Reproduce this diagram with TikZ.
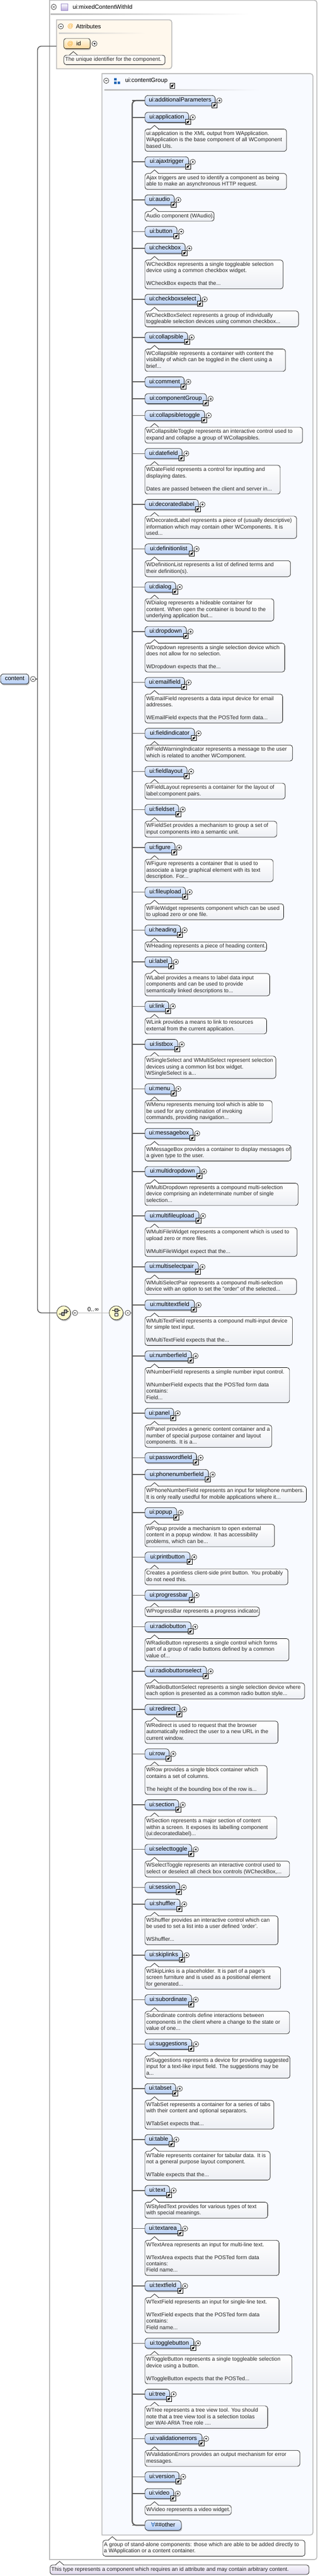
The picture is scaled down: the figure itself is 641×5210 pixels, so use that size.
\documentclass[tikz,border=0pt]{standalone}
\usepackage{fontspec}
\setmainfont{Liberation Sans}
\newfontfamily\symfont{DejaVu Sans}
\usetikzlibrary{shadows}

\definecolor{boxline}{HTML}{BBBBBB}
\definecolor{linkline}{HTML}{5A5A5A}
\definecolor{groupfill}{HTML}{F8FAFF}
\definecolor{attrfill}{HTML}{FFF8ED}
\definecolor{eltop}{HTML}{E6EEFC}
\definecolor{elbot}{HTML}{B4CDF5}
\definecolor{attrtop}{HTML}{FFFBEA}
\definecolor{attrbot}{HTML}{FFD89C}
\definecolor{attrmark}{HTML}{F5A623}
\definecolor{notebot}{HTML}{EDEFF4}
\definecolor{typetop}{HTML}{F8F6FC}
\definecolor{typebot}{HTML}{E2DBEE}
\definecolor{typeline}{HTML}{9B8CC8}
\definecolor{typefill}{HTML}{B9A9DC}
\definecolor{compfill}{HTML}{FFFBCC}
\definecolor{groupblue}{HTML}{1F64B4}

\tikzset{
	elshadow/.style={drop shadow={shadow xshift=1.5pt,shadow yshift=-2.5pt,fill=black,opacity=0.25}},
	elbox/.style={draw=black,line width=0.7pt,rounded corners=6pt,top color=eltop,bottom color=elbot,
		anchor=west,minimum height=20.3pt,inner ysep=0pt,inner xsep=2pt,text height=8.5pt,text depth=2.5pt,
		font=\fontsize{12}{14}\selectfont,elshadow},
	notebox/.style={draw=black,line width=0.7pt,rounded corners=5pt,top color=white,bottom color=notebot,
		anchor=north west,inner xsep=2.5pt,inner ysep=3.1pt,text=black!85,
		font=\fontsize{11}{13}\selectfont},
	plusb/.style={circle,draw=black,line width=0.6pt,fill=white,minimum size=10.6pt,inner sep=0pt,
		path picture={\draw[line width=0.6pt,shift={(path picture bounding box.center)}] (-2pt,0pt) -- (2pt,0pt) (0pt,-2pt) -- (0pt,2pt);}},
	minusb/.style={circle,draw=black,line width=0.6pt,fill=white,minimum size=10.6pt,inner sep=0pt,
		path picture={\draw[line width=0.6pt,shift={(path picture bounding box.center)}] (-2pt,0pt) -- (2pt,0pt);}},
	refbox/.style={draw=black,line width=0.8pt,fill=white,minimum size=10.4pt,inner sep=0pt,
		path picture={\draw[line width=1.3pt,-latex,shift={(path picture bounding box.center)}] (-3.2pt,-3.2pt) -- (3.4pt,3.4pt);}},
	title/.style={anchor=west,inner sep=0pt,font=\fontsize{12}{14}\selectfont},
	branch/.style={draw=linkline,line width=1.6pt},
	trunkline/.style={draw=linkline,line width=2.4pt,rounded corners=8pt},
	lefttrunkline/.style={draw=linkline,line width=1.6pt,rounded corners=8pt},
	framebox/.style={draw=boxline,line width=1.8pt},
	comp/.style={circle,draw=black,line width=0.7pt,fill=compfill,minimum size=28pt,inner sep=0pt,elshadow},
	thinlink/.style={draw=boxline,line width=0.8pt},
}

% element with its reference mark, expander and link to the trunk
\newcommand{\uiel}[3]{
	\pgfmathsetmacro{\elw}{#3-292.3}
	\pgfmathsetmacro{\elrx}{#3-0.8}
	\pgfmathsetmacro{\elpx}{#3+8.8}
	\node[elbox,minimum width=\elw pt] (#1) at (292.3,#2) {ui:#1};
	\node[plusb] (#1-plus) at (\elpx,#2) {};
	\node[refbox] (#1-ref) at (\elrx,#2+9.3) {};
	\draw[branch] (trunk |- #1.west) -- (#1.west);
}
% callout: name, place, box width, extra style, text
\newcommand{\uinote}[5]{
	\pgfmathsetmacro{\ntw}{#3-5}
	\node[notebox,#4] (#1) at #2 {\makebox[\ntw pt][l]{\begin{tabular}{@{}l@{}}#5\end{tabular}}};
	\draw[white,line width=1.2pt] ([xshift=12.4pt]#1.north west) -- ([xshift=26.8pt]#1.north west);
	\draw[line width=0.7pt] ([xshift=11.6pt]#1.north west) -- ([xshift=19.6pt,yshift=7pt]#1.north west) -- ([xshift=27.6pt]#1.north west);
}
\newcommand{\eldoc}[3]{
	\pgfmathsetmacro{\dcw}{#2-292.3}
	\uinote{#1-doc}{([yshift=-12.8pt]#1.south west)}{\dcw}{}{#3}
}

\begin{document}
\begin{tikzpicture}[x=1pt,y=-1pt]
	\useasboundingbox (0,0) rectangle (641,5210);

	% frames
	\draw[framebox,fill=white] (100,0.6) [rounded corners=5pt] -- (639.6,0.6) -- (639.6,5176.7) -- (600,5176.7) [sharp corners] -- (100,5176.7) -- cycle;
	\draw[framebox,fill=attrfill] (114,40) [rounded corners=5pt] -- (346.7,40) -- (346.7,139) -- (300,139) [sharp corners] -- (114,139) -- cycle;
	\draw[framebox,fill=groupfill] (205.9,149) [rounded corners=5pt] -- (631.6,149) -- (631.6,5127) -- (600,5127) [sharp corners] -- (205.9,5127) -- cycle;

	\shade[left color=boxline,right color=white] (102,28) rectangle (503,30);
	\shade[left color=boxline!70,right color=attrfill] (119,66) rectangle (295,68);
	\shade[left color=boxline,right color=groupfill] (211,181) rectangle (524,183);

	% headers
	\node[minusb] (typeminus) at (108.5,14) {};
	\node[draw=typeline,line width=0.8pt,top color=white,bottom color=typefill,minimum size=12.8pt,inner sep=0pt] (typeicon) at (130,14.5) {};
	\node[title] (typetitle) at (146.5,14) {ui:mixedContentWithId};

	\node[minusb] (attrminus) at (122.8,53.3) {};
	\node[title,text=attrmark] (attrmk) at (136,53.3) {@};
	\node[title] (attrtitle) at (153,53.3) {Attributes};

	\node[draw=black,line width=0.7pt,rounded corners=4pt,top color=attrtop,bottom color=attrbot,elshadow,anchor=west,minimum width=53.2pt,minimum height=20.5pt,inner sep=0pt,font=\fontsize{12}{14}\selectfont] (idattr) at (128.5,88.3) {\makebox[53.2pt][l]{\hspace{7pt}\textcolor{attrmark}{@}\hspace{6pt}id}};
	\node[plusb] (idplus) at (190.7,88.3) {};
	\uinote{iddoc}{(128.5,111.3)}{204.3}{top color=white,bottom color=attrfill}{The unique identifier for the component.}

	\node[minusb] (groupminus) at (214.5,163.3) {};
	\fill[groupblue] (230.5,158) rectangle (235.4,162.7) (230.5,165) rectangle (235.4,170) (237.4,165) rectangle (242.3,170);
	\node[title] (grouptitle) at (252.5,163.3) {ui:contentGroup};
	\node[refbox] (groupref) at (347.9,173.3) {};

	% compositors
	\coordinate (trunk) at (266.9,0);
	\coordinate (lefttrunk) at (75.7,0);
	\coordinate (attrin) at (114,93.3);
	\node[elbox,minimum width=57pt] (content) at (0.8,1373.3) {content};
	\node[minusb] (contentminus) at (66.7,1373.3) {};
	\node[comp] (seqa) at (128.5,2655.3) {};
	\node[minusb] (seqaminus) at (151.4,2655.3) {};
	\node[comp] (seqb) at (234.5,2655.3) {};
	\node[minusb] (seqbminus) at (257.9,2655.3) {};
	\node[inner sep=0pt,font=\fontsize{12}{14}\selectfont] (occurs) at (188.5,2648.3) {0..{\symfont ∞}};

	\draw[thinlink] (seqaminus) -- (seqb);
	\draw[branch] (contentminus) -- (lefttrunk |- contentminus);
	\draw[branch] (seqbminus) -- (trunk |- seqbminus);
	\draw[lefttrunkline] (attrin) -- (lefttrunk |- attrin) -- (lefttrunk |- seqa) -- (seqa);

	% marks in the two compositors
	\draw[line width=0.6pt,fill=black!35] (129,2649.5) rectangle (135,2655.5);
	\draw[line width=0.6pt,fill=black!35] (124,2654.5) rectangle (130,2660.5);
	\draw[line width=0.7pt] (135,2652) -- (139,2652) (124,2657.5) -- (119,2657.5);
	\draw[line width=0.7pt] (226,2650) -- (243,2650);
	\draw[line width=0.6pt,fill=black!35] (231.5,2647) rectangle (237.5,2653);
	\draw[line width=0.6pt,fill=white] (231.5,2656) rectangle (237.5,2662);

	% elements
	\uiel{additionalParameters}{203.3}{433.9}
	\uiel{application}{237.3}{380.3}
	\eldoc{application}{578}{ui:application is the XML output from WApplication.\\WApplication is the base component of all WComponent\\based UIs.}
	\uiel{ajaxtrigger}{327.3}{380.3}
	\eldoc{ajaxtrigger}{578}{Ajax triggers are used to identify a component as being\\able to make an asynchronous HTTP request.}
	\uiel{audio}{404.3}{351.2}
	\eldoc{audio}{431.8}{Audio component (WAudio).}
	\uiel{button}{468.3}{356.9}
	\uiel{checkbox}{502.3}{373.3}
	\eldoc{checkbox}{571}{WCheckBox represents a single toggleable selection\\device using a common checkbox widget.\\~\\WCheckBox expects that the...}
	\uiel{checkboxselect}{605.3}{404.4}
	\eldoc{checkboxselect}{602.1}{WCheckBoxSelect represents a group of individually\\toggleable selection devices using common checkbox...}
	\uiel{collapsible}{682.3}{378.2}
	\eldoc{collapsible}{575.9}{WCollapsible represents a container with content the\\visibility of which can be toggled in the client using a\\brief...}
	\uiel{comment}{772.3}{371.3}
	\uiel{componentGroup}{806.3}{416.3}
	\uiel{collapsibletoggle}{840.3}{412.6}
	\eldoc{collapsibletoggle}{610.3}{WCollapsibleToggle represents an interactive control used to\\expand and collapse a group of WCollapsibles.}
	\uiel{datefield}{917.3}{367.2}
	\eldoc{datefield}{565.3}{WDateField represents a control for inputting and\\displaying dates.\\~\\Dates are passed between the client and server in...}
	\uiel{decoratedlabel}{1020.3}{399.9}
	\eldoc{decoratedlabel}{598.4}{WDecoratedLabel represents a piece of (usually descriptive)\\information which may contain other WComponents. It is\\used...}
	\uiel{definitionlist}{1110.3}{388}
	\eldoc{definitionlist}{586.1}{WDefinitionList represents a list of defined terms and\\their definition(s).}
	\uiel{dialog}{1187.3}{354.1}
	\eldoc{dialog}{552.2}{WDialog represents a hideable container for\\content. When open the container is bound to the\\underlying application but...}
	\uiel{dropdown}{1277.3}{375.8}
	\eldoc{dropdown}{574.3}{WDropdown represents a single selection device which\\does not allow for no selection.\\~\\WDropdown expects that the...}
	\uiel{emailfield}{1380.3}{372.1}
	\eldoc{emailfield}{570.2}{WEmailField represents a data input device for email\\addresses.\\~\\WEmailField expects that the POSTed form data...}
	\uiel{fieldindicator}{1483.3}{392.1}
	\eldoc{fieldindicator}{590.2}{WFieldWarningIndicator represents a message to the user\\which is related to another WComponent.}
	\uiel{fieldlayout}{1560.3}{377}
	\eldoc{fieldlayout}{575.1}{WFieldLayout represents a container for the layout of\\label:component pairs.}
	\uiel{fieldset}{1637.3}{360.2}
	\eldoc{fieldset}{558.3}{WFieldSet provides a mechanism to group a set of\\input components into a semantic unit.}
	\uiel{figure}{1714.3}{352.8}
	\eldoc{figure}{551}{WFigure represents a container that is used to\\associate a large graphical element with its text\\description. For...}
	\uiel{fileupload}{1804.3}{374.1}
	\eldoc{fileupload}{572.2}{WFileWidget represents component which can be used\\to upload zero or one file.}
	\uiel{heading}{1881.3}{363.9}
	\eldoc{heading}{537.8}{WHeading represents a piece of heading content.}
	\uiel{label}{1945.3}{346.3}
	\eldoc{label}{544}{WLabel provides a means to label data input\\components and can be used to provide\\semantically linked descriptions to...}
	\uiel{link}{2035.3}{340.1}
	\eldoc{link}{537.8}{WLink provides a means to link to resources\\external from the current application.}
	\uiel{listbox}{2112.3}{358.2}
	\eldoc{listbox}{556.3}{WSingleSelect and WMultiSelect represent selection\\devices using a common list box widget.\\WSingleSelect is a...}
	\uiel{menu}{2202.3}{351.2}
	\eldoc{menu}{548.9}{WMenu represents menuing tool which is able to\\be used for any combination of invoking\\commands, providing navigation...}
	\uiel{messagebox}{2292.3}{389.3}
	\eldoc{messagebox}{587}{WMessageBox provides a container to display messages of\\a given type to the user.}
	\uiel{multidropdown}{2369.3}{403.2}
	\eldoc{multidropdown}{601.3}{WMultiDropdown represents a compound multi-selection\\device comprising an indeterminate number of single\\selection...}
	\uiel{multifileupload}{2459.3}{401.1}
	\eldoc{multifileupload}{599.2}{WMultiFileWidget represents a component which is used to\\upload zero or more files.\\~\\WMultiFileWidget expect that the...}
	\uiel{multiselectpair}{2562.3}{399.9}
	\eldoc{multiselectpair}{598}{WMultiSelectPair represents a compound multi-selection\\device with an option to set the "order" of the selected...}
	\uiel{multitextfield}{2639.3}{392.1}
	\eldoc{multitextfield}{589.8}{WMultiTextField represents a compound multi-input device\\for simple text input.\\~\\WMultiTextField expects that the...}
	\uiel{numberfield}{2742.3}{386}
	\eldoc{numberfield}{584.1}{WNumberField represents a simple number input control.\\~\\WNumberField expects that the POSTed form data\\contains:\\Field...}
	\uiel{panel}{2858.3}{350}
	\eldoc{panel}{548.1}{WPanel provides a generic content container and a\\number of special purpose container and layout\\components. It is a...}
	\uiel{passwordfield}{2948.3}{396.2}
	\uiel{phonenumberfield}{2982.3}{420.4}
	\eldoc{phonenumberfield}{618.1}{WPhoneNumberField represents an input for telephone numbers.\\It is only really usedful for mobile applications where it...}
	\uiel{popup}{3059.3}{356.1}
	\eldoc{popup}{553.8}{WPopup provide a mechanism to open external\\content in a popup window. It has accessibility\\problems, which can be...}
	\uiel{printbutton}{3149.3}{383.1}
	\eldoc{printbutton}{580.8}{Creates a pointless client-side print button. You probably\\do not need this.}
	\uiel{progressbar}{3226.3}{388}
	\eldoc{progressbar}{523.1}{WProgressBar represents a progress indicator.}
	\uiel{radiobutton}{3290.3}{385.2}
	\eldoc{radiobutton}{582.9}{WRadioButton represents a single control which forms\\part of a group of radio buttons defined by a common\\value of...}
	\uiel{radiobuttonselect}{3380.3}{416.3}
	\eldoc{radiobuttonselect}{614.4}{WRadioButtonSelect represents a single selection device where\\each option is presented as a common radio button style...}
	\uiel{redirect}{3457.3}{363.1}
	\eldoc{redirect}{560.8}{WRedirect is used to request that the browser\\automatically redirect the user to a new URL in the\\current window.}
	\uiel{row}{3547.3}{341}
	\eldoc{row}{538.7}{WRow provides a single block container which\\contains a set of columns.\\~\\The height of the bounding box of the row is...}
	\uiel{section}{3650.3}{360.2}
	\eldoc{section}{558.3}{WSection represents a major section of content\\within a screen. It exposes its labelling component\\(ui:decoratedlabel)...}
	\uiel{selecttoggle}{3740.3}{386.4}
	\eldoc{selecttoggle}{584.1}{WSelectToggle represents an interactive control used to\\select or deselect all check box controls (WCheckBox,...}
	\uiel{session}{3817.3}{362.2}
	\uiel{shuffler}{3851.3}{363.1}
	\eldoc{shuffler}{560.8}{WShuffler provides an interactive control which can\\be used to set a list into a user defined 'order'.\\~\\WShuffler...}
	\uiel{skiplinks}{3954.3}{368}
	\eldoc{skiplinks}{566.1}{WSkipLinks is a placeholder. It is part of a page's\\screen furniture and is used as a positional element\\for generated...}
	\uiel{subordinate}{4044.3}{386.4}
	\eldoc{subordinate}{584.1}{Subordinate controls define interactions between\\components in the client where a change to the state or\\value of one...}
	\uiel{suggestions}{4134.3}{386.8}
	\eldoc{suggestions}{584.9}{WSuggestions represents a device for providing suggested\\input for a text-like input field. The suggestions may be\\a...}
	\uiel{tabset}{4224.3}{354.1}
	\eldoc{tabset}{552.2}{WTabSet represents a container for a series of tabs\\with their content and optional separators.\\~\\WTabSet expects that...}
	\uiel{table}{4327.3}{347.1}
	\eldoc{table}{544.8}{WTable represents container for tabular data. It is\\not a general purpose layout component.\\~\\WTable expects that the...}
	\uiel{text}{4430.3}{341.8}
	\eldoc{text}{539.9}{WStyledText provides for various types of text\\with special meanings.}
	\uiel{textarea}{4507.3}{364.7}
	\eldoc{textarea}{562.8}{WTextArea represents an input for multi-line text.\\~\\WTextArea expects that the POSTed form data\\contains:\\Field name...}
	\uiel{textfield}{4623.3}{364.7}
	\eldoc{textfield}{562.8}{WTextField represents an input for single-line text.\\~\\WTextField expects that the POSTed form data\\contains:\\Field name...}
	\uiel{togglebutton}{4739.3}{390.9}
	\eldoc{togglebutton}{589}{WToggleButton represents a single toggleable selection\\device using a button.\\~\\WToggleButton expects that the POSTed...}
	\uiel{tree}{4842.3}{341.8}
	\eldoc{tree}{539.9}{WTree represents a tree view tool. You should\\note that a tree view tool is a selection toolas\\per WAI-ARIA Tree role ....}
	\uiel{validationerrors}{4932.3}{407.3}
	\eldoc{validationerrors}{605}{WValidationErrors provides an output mechanism for error\\messages.}
	\uiel{version}{5009.3}{361}
	\uiel{video}{5043.3}{350}
	\eldoc{video}{466.6}{WVideo represents a video widget.}

	\node[elbox,minimum width=73.2pt] (other) at (292.3,5107.3) {{\symfont\textcolor{groupblue}{∀}}\#\#other};
	\draw[branch] (trunk |- other.west) -- (other.west);
	\draw[trunkline] (additionalParameters.west) -- (trunk |- additionalParameters.west) -- (trunk |- other.west) -- (other.west);

	% notes of the group and of the type
	\uinote{groupdoc}{(207.1,5137.3)}{408.1}{bottom color=black!4}{A group of stand-alone components: those which are able to be added directly to\\a WApplication or a content container.}
	\uinote{typedoc}{(100.7,5187.3)}{522.7}{top color=typetop,bottom color=typebot}{This type represents a component which requires an id attribute and may contain arbitrary content.}
\end{tikzpicture}
\end{document}
